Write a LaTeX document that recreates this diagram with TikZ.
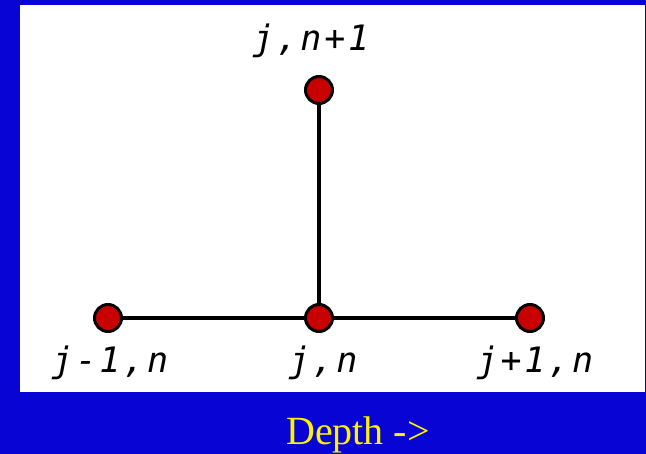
\documentclass[tikz,border=0pt]{standalone}
\usepackage{fontspec}
\usetikzlibrary{backgrounds}
\setmainfont{Liberation Serif}
\newfontfamily\gridfont{DejaVu Sans Mono Oblique}[LetterSpace=8]

\definecolor{slideblue}{RGB}{8,4,212}
\definecolor{pointred}{RGB}{200,0,0}

\tikzset{every picture/.style={line width=0.75pt}}
\tikzset{
  gridpt/.style={circle, draw=black, fill=pointred, line width=3pt,
                 minimum size=27pt, inner sep=0pt},
  gridlabel/.style={font=\gridfont\fontsize{35}{35}\selectfont, inner sep=0pt},
  link/.style={line width=4pt}
}

\begin{document}
\begin{tikzpicture}[x=1pt,y=-1pt]
  % --- les points ---
  \node[gridpt] (up) at (319,90) {};
  \node[gridpt] (left) at (108,318) {};
  \node[gridpt] (mid) at (319,318) {};
  \node[gridpt] (right) at (530,318) {};

  % --- fond et liaisons ---
  \begin{scope}[on background layer]
    \fill[slideblue] (0,0) rectangle (646,454);
    \fill[white] (20,5) rectangle (645,392);
    \draw[link] (left.center) -- (mid.center);
    \draw[link] (mid.center) -- (right.center);
    \draw[link] (up.center) -- (mid.center);
  \end{scope}
  \useasboundingbox (0,0) rectangle (646,454);

  \node[gridlabel, anchor=base] (lup) at (311,51) {j,n+1};
  \node[gridlabel, anchor=base] (lleft) at (110,373) {j-1,n};
  \node[gridlabel, anchor=base] (lmid) at (323,373) {j,n};
  \node[gridlabel, anchor=base] (lright) at (535,373) {j+1,n};

  % --- légende ---
  \node[text=yellow, font=\fontsize{40}{40}\selectfont, anchor=base,
        inner sep=0pt] (depth) at (358,445) {Depth ->};
\end{tikzpicture}
\end{document}
